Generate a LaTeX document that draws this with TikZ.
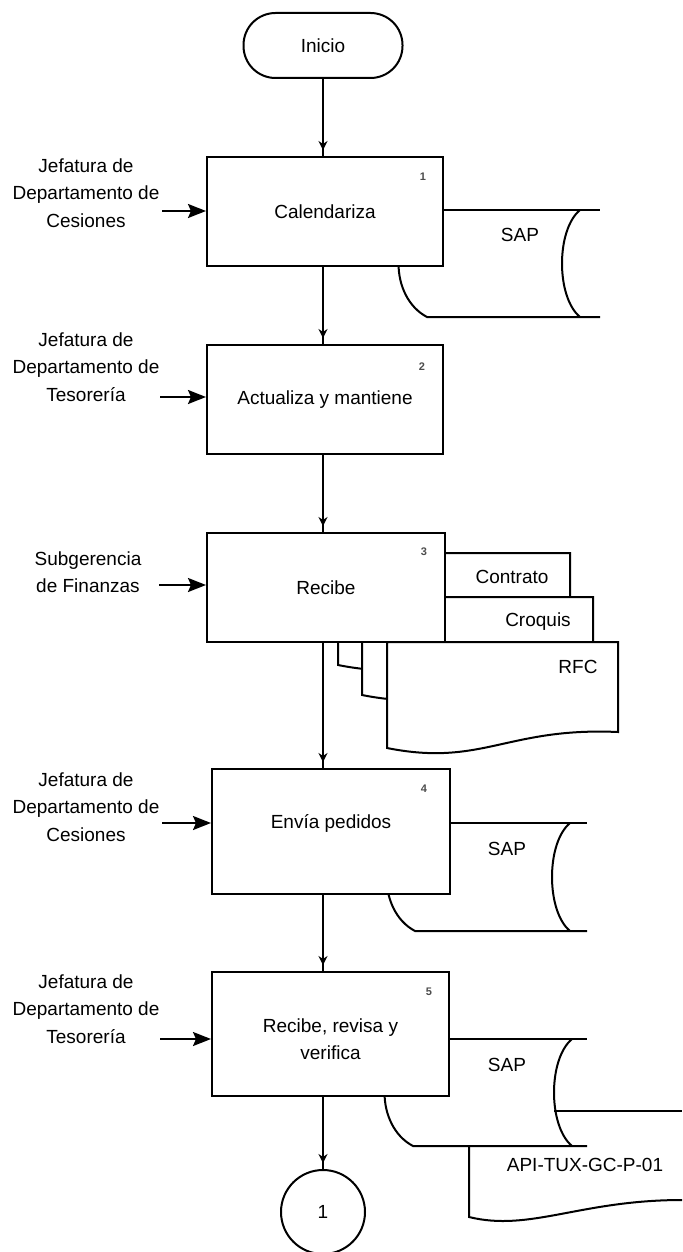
\documentclass[tikz,border=0pt]{standalone}
\usepackage{fontspec}
\setmainfont{Liberation Sans}
\usepackage{tikz}
\usetikzlibrary{
    arrows.meta,
    calc,
    decorations.markings
}

\tikzset{
    txt/.style={font=\fontsize{9.5}{13.75}\selectfont},
    lbl/.style={txt, align=center},
    num/.style={font=\fontsize{5.5}{6}\selectfont\bfseries, text=black!70},
    proc/.style={draw, line width=1pt, fill=white, txt, align=center,
        minimum width=118pt, minimum height=54.5pt, inner sep=0pt},
    flow/.style={line width=1pt, postaction={decorate},
        decoration={markings, mark=at position -3pt with {\arrow{Stealth[length=4.5pt,width=4.5pt]}}}},
    feed/.style={line width=1pt, -{Stealth[length=9pt,width=7pt,inset=1.5pt]}},
    shp/.style={line width=1pt},
    docu/.style={line width=1pt, fill=white}
}

\begin{document}
\begin{tikzpicture}[x=0.5pt, y=-0.5pt]
    \useasboundingbox (0,0) rectangle (682,1252);

    % Start
    \node[draw, line width=1pt, rounded corners=16pt, minimum width=79.5pt,
        minimum height=32.5pt, txt] (inicio) at (323,45.5) {Inicio};

    % SAP after step 1
    \begin{scope}[shift={(427,210)}]
        \draw[shp] (0,0) .. controls (-38,20) and (-38,87) .. (0,107) -- (173,107);
        \draw[shp] (0,0) -- (173,0);
        \draw[shp] (153,0) .. controls (129,20) and (129,87) .. (153,107);
        \node[txt] at (93,25) {SAP};
    \end{scope}

    % Documents of step 3
    \begin{scope}[shift={(338,553)}]
        \draw[docu] (0,112) .. controls (95,131) and (121,91) .. (232,96) -- (232,0) -- (0,0) -- cycle;
    \end{scope}
    \begin{scope}[shift={(362,597)}]
        \draw[docu] (0,98) .. controls (95,117) and (120,77) .. (231,82) -- (231,0) -- (0,0) -- cycle;
    \end{scope}
    \begin{scope}[shift={(387,642)}]
        \draw[docu] (0,106) .. controls (95,125) and (120,85) .. (231,90) -- (231,0) -- (0,0) -- cycle;
    \end{scope}
    \node[txt] at (512,577) {Contrato};
    \node[txt] at (538,622) {Croquis};
    \node[txt] at (578,667) {RFC};

    % SAP after step 4
    \begin{scope}[shift={(415,823)}]
        \draw[shp] (0,0) .. controls (-38,20) and (-38,88) .. (0,108) -- (172,108);
        \draw[shp] (0,0) -- (172,0);
        \draw[shp] (155,0) .. controls (131,20) and (131,88) .. (155,108);
        \node[txt] at (92,26) {SAP};
    \end{scope}

    % SAP and procedure after step 5
    \begin{scope}[shift={(413,1039)}]
        \draw[shp] (0,0) .. controls (-38,20) and (-38,87) .. (0,107) -- (174,107);
        \draw[shp] (0,0) -- (174,0);
        \draw[shp] (159,0) .. controls (135,20) and (135,87) .. (159,107);
        \draw[shp] (141,72) -- (269,72);
        \node[txt] at (94,26) {SAP};
    \end{scope}
    \draw[shp] (469,1146) -- (469,1217) .. controls (530,1232) and (580,1200) .. (682,1200);
    \node[txt] at (585,1165) {API-TUX-GC-P-01};

    % Steps
    \node[proc] (cal) at (325,211.5) {Calendariza};
    \node[proc] (act) at (325,399.5) {Actualiza y mantiene};
    \node[proc, minimum width=119pt] (rec) at (326,587.5) {Recibe};
    \node[proc, minimum width=119pt, minimum height=62.5pt] (env) at (331,831.5) {};
    \node[txt] (envtxt) at ($(env.center)+(0,-8)$) {Envía pedidos};
    \node[proc, minimum width=118.5pt, minimum height=62pt] (rev) at (330.5,1034) {};
    \node[lbl] (revtxt) at ($(rev.center)+(0,5)$) {Recibe, revisa y\\verifica};

    \node[num] at ([shift={(-21,21)}]cal.north east) {1};
    \node[num] at ([shift={(-22,23)}]act.north east) {2};
    \node[num] at ([shift={(-22,20)}]rec.north east) {3};
    \node[num] at ([shift={(-27,21)}]env.north east) {4};
    \node[num] at ([shift={(-21,21)}]rev.north east) {5};

    % Connector
    \node[draw, circle, line width=1pt, minimum size=42pt, inner sep=0pt, txt] (con) at (323,1212) {1};

    % Flow
    \draw[flow] (inicio.south) -- (inicio |- cal.north);
    \draw[flow] (cal.south -| inicio) -- (inicio |- act.north);
    \draw[flow] (act.south -| inicio) -- (inicio |- rec.north);
    \draw[flow] (rec.south -| inicio) -- (inicio |- env.north);
    \draw[flow] (env.south -| inicio) -- (inicio |- rev.north);
    \draw[flow] (rev.south -| inicio) -- (con.north);

    % Responsibles
    \node[lbl] (resp1) at (86,193) {Jefatura de\\Departamento de\\Cesiones};
    \node[lbl] (resp2) at (86,367) {Jefatura de\\Departamento de\\Tesorería};
    \node[lbl] (resp3) at (88,572) {Subgerencia\\de Finanzas};
    \node[lbl] (resp4) at (86,807) {Jefatura de\\Departamento de\\Cesiones};
    \node[lbl] (resp5) at (86,1009) {Jefatura de\\Departamento de\\Tesorería};

    \coordinate (in1) at (162,211);
    \coordinate (in2) at (160,397);
    \coordinate (in3) at (159,585);
    \coordinate (in4) at (162,823);
    \coordinate (in5) at (160,1039);
    \draw[feed] (in1) -- (in1 -| cal.west);
    \draw[feed] (in2) -- (in2 -| act.west);
    \draw[feed] (in3) -- (in3 -| rec.west);
    \draw[feed] (in4) -- (in4 -| env.west);
    \draw[feed] (in5) -- (in5 -| rev.west);
\end{tikzpicture}
\end{document}
